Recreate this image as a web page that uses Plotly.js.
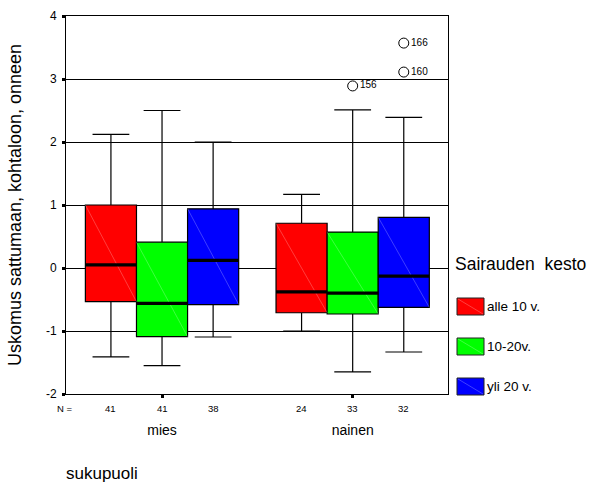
<!DOCTYPE html>
<html>
<head>
<meta charset="utf-8">
<script src="https://cdn.plot.ly/plotly-3.0.1.min.js"></script>
<style>
html,body{margin:0;padding:0;background:#fff;}
#chart{width:595px;height:486px;}
</style>
</head>
<body>
<div id="chart"></div>
<script>
// ---- data ----
const groups = ['mies', 'nainen'];
const series = ['alle 10 v.', '10-20v.', 'yli 20 v.'];
const q1Values     = [[-0.535, -0.71], [-1.09, -0.73], [-0.58, -0.625]];
const medianValues = [[0.05, -0.38],   [-0.56, -0.40], [0.12, -0.13]];
const q3Values     = [[1.00, 0.71],    [0.41, 0.57],   [0.94, 0.805]];
const lowerValues  = [[-1.41, -1.00],  [-1.55, -1.65], [-1.095, -1.333]];
const upperValues  = [[2.12, 1.17],    [2.50, 2.51],   [2.00, 2.39]];
const nValues      = [[41, 24],        [41, 33],       [38, 32]];
const outlierGroup  = ['nainen', 'nainen', 'nainen'];
const outlierSeries = ['10-20v.', 'yli 20 v.', 'yli 20 v.'];
const outlierValues = [2.89, 3.11, 3.57];
const outlierLabels = ['156', '160', '166'];
const yTickValues = [-2, -1, 0, 1, 2, 3, 4];
const legendTitle = 'Sairauden  kesto';
const xTitle = 'sukupuoli';
const yTitle = 'Uskomus sattumaan, kohtaloon, onneen';

// ---- style ----
const colors = ['#FF0000', '#00FF00', '#0000FF'];
const BW = 0.268;           // box width (data units)
const FONT = 'Liberation Sans, Arial, sans-serif';
const W = 595, H = 486;
const M = {l: 66, r: 147, t: 16, b: 92};
const PW = W - M.l - M.r, PH = H - M.t - M.b;
const px2x = p => (p - M.l) / PW;
const py2y = p => (H - M.b - p) / PH;

const pos = (gi, si) => gi + (si - 1) * BW;

const traces = [];
series.forEach((s, si) => {
  traces.push({
    type: 'box',
    name: s,
    x: groups.map((g, gi) => pos(gi, si)),
    q1: q1Values[si],
    median: medianValues[si],
    q3: q3Values[si],
    lowerfence: lowerValues[si],
    upperfence: upperValues[si],
    width: BW,
    whiskerwidth: 0.72,
    boxpoints: false,
    fillcolor: colors[si],
    line: {color: '#000', width: 1.2},
    showlegend: false,
    hoverinfo: 'skip'
  });
});

// faint diagonal pattern line inside each box (top-left to bottom-right)
series.forEach((s, si) => {
  const dx = [], dy = [];
  groups.forEach((g, gi) => {
    const c = pos(gi, si);
    dx.push(c - BW / 2, c + BW / 2, null);
    dy.push(q3Values[si][gi], q1Values[si][gi], null);
  });
  traces.push({
    type: 'scatter', mode: 'lines', x: dx, y: dy,
    line: {color: 'rgba(255,255,255,0.35)', width: 0.7},
    showlegend: false, hoverinfo: 'skip'
  });
});

// thick median lines
const mx = [], my = [];
series.forEach((s, si) => {
  groups.forEach((g, gi) => {
    const c = pos(gi, si);
    mx.push(c - BW / 2, c + BW / 2, null);
    my.push(medianValues[si][gi], medianValues[si][gi], null);
  });
});
traces.push({
  type: 'scatter', mode: 'lines', x: mx, y: my,
  line: {color: '#000', width: 3.2}, showlegend: false, hoverinfo: 'skip'
});

// outliers
traces.push({
  type: 'scatter', mode: 'markers+text',
  x: outlierValues.map((v, i) => pos(groups.indexOf(outlierGroup[i]), series.indexOf(outlierSeries[i]))),
  y: outlierValues,
  text: outlierLabels,
  textposition: 'middle right',
  textfont: {family: FONT, size: 10, color: '#000'},
  marker: {symbol: 'circle', size: 10, color: '#fff', line: {color: '#000', width: 1}},
  showlegend: false, hoverinfo: 'skip', cliponaxis: false
});

const annotations = [];
// N = row
annotations.push({
  xref: 'paper', yref: 'paper', x: px2x(65), y: 0, yshift: -14,
  xanchor: 'center', yanchor: 'middle', showarrow: false,
  text: 'N =', font: {family: FONT, size: 9.5, color: '#000'}
});
series.forEach((s, si) => {
  groups.forEach((g, gi) => {
    annotations.push({
      xref: 'x', yref: 'paper', x: pos(gi, si), y: 0, yshift: -14,
      xanchor: 'center', yanchor: 'middle', showarrow: false,
      text: String(nValues[si][gi]), font: {family: FONT, size: 9.5, color: '#000'}
    });
  });
});
// x title
annotations.push({
  xref: 'paper', yref: 'paper', x: px2x(64), y: 0, yshift: -79,
  xanchor: 'left', yanchor: 'middle', showarrow: false,
  text: xTitle, font: {family: FONT, size: 17, color: '#000'}
});
// legend
annotations.push({
  xref: 'paper', yref: 'paper', x: px2x(453), y: py2y(264),
  xanchor: 'left', yanchor: 'middle', showarrow: false,
  text: legendTitle, font: {family: FONT, size: 17.5, color: '#000'}
});
const shapes = [];
series.forEach((s, si) => {
  const top = 298 + si * 40;
  shapes.push({
    type: 'rect', xref: 'paper', yref: 'paper',
    x0: px2x(457), x1: px2x(484), y0: py2y(top), y1: py2y(top + 17),
    fillcolor: colors[si], line: {color: '#222', width: 1}
  });
  shapes.push({
    type: 'line', xref: 'paper', yref: 'paper',
    x0: px2x(458), x1: px2x(483), y0: py2y(top + 1), y1: py2y(top + 16),
    line: {color: 'rgba(255,255,255,0.35)', width: 0.7}
  });
  annotations.push({
    xref: 'paper', yref: 'paper', x: px2x(485), y: py2y(top + 8.5),
    xanchor: 'left', yanchor: 'middle', showarrow: false,
    text: s, font: {family: FONT, size: 13.5, color: '#000'}
  });
});

const layout = {
  width: W, height: H,
  margin: M,
  paper_bgcolor: '#fff', plot_bgcolor: '#fff',
  font: {family: FONT, color: '#000'},
  boxmode: 'overlay',
  showlegend: false,
  xaxis: {
    range: [-96 / 190.6, 1.5],
    tickvals: groups.map((g, gi) => gi),
    ticktext: groups,
    showgrid: false, zeroline: false,
    showline: true, mirror: true, linecolor: '#000', linewidth: 1,
    ticks: 'outside', ticklen: 3, tickwidth: 3, tickcolor: '#000',
    tickfont: {family: FONT, size: 14, color: '#000'},
    ticklabelstandoff: 20,
    fixedrange: true
  },
  yaxis: {
    range: [-2, 4],
    tickvals: yTickValues,
    ticktext: yTickValues.map(String),
    showgrid: true, gridcolor: '#000', gridwidth: 1,
    zeroline: false,
    showline: true, mirror: true, linecolor: '#000', linewidth: 1,
    ticks: 'outside', ticklen: 3, tickwidth: 3, tickcolor: '#000',
    tickfont: {family: FONT, size: 12, color: '#000'},
    ticklabelstandoff: 3,
    title: {text: yTitle, font: {family: FONT, size: 18, color: '#000'}, standoff: 19},
    fixedrange: true
  },
  annotations: annotations,
  shapes: shapes
};

Plotly.newPlot('chart', traces, layout, {displayModeBar: false, staticPlot: true});
</script>
</body>
</html>
